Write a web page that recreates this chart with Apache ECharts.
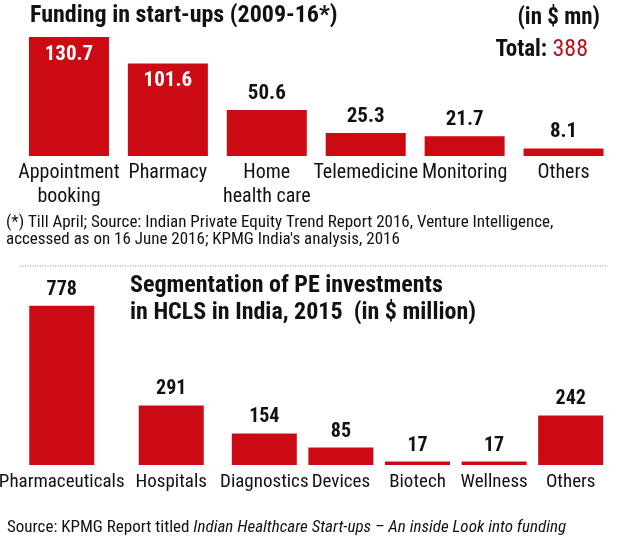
<!DOCTYPE html>
<html>
<head>
<meta charset="utf-8">
<script src="https://cdn.jsdelivr.net/npm/echarts@6/dist/echarts.min.js"></script>
<style>
  html, body { margin: 0; padding: 0; background: #fff; }
  #chart { width: 620px; height: 538px; }
</style>
</head>
<body>
<div id="chart"></div>
<script>
// ============================================
// Data
// ============================================
const startupCategories = ['Appointment\nbooking', 'Pharmacy', 'Home\nhealth care', 'Telemedicine', 'Monitoring', 'Others'];
const startupFunding = [130.7, 101.6, 50.6, 25.3, 21.7, 8.1];
const startupTotal = 388;

const peCategories = ['Pharmaceuticals', 'Hospitals', 'Diagnostics', 'Devices', 'Biotech', 'Wellness', 'Others'];
const peInvestments = [778, 291, 154, 85, 17, 17, 242];

// ============================================
// Styles
// ============================================
const RED = '#cc0a14';
const INK = '#111';
const FONT = '"Roboto Condensed", "DejaVu Sans Condensed", sans-serif';

// first two PE bars sit on a wider grid (uneven spacing in print)
const splitAt = 2;

function catAxis(gridIndex, data, fontSize) {
    return {
        type: 'category',
        gridIndex,
        data,
        axisLine: { show: false },
        axisTick: { show: false },
        axisLabel: {
            interval: 0,
            color: INK,
            fontFamily: FONT,
            fontSize,
            lineHeight: 24,
            margin: 5
        }
    };
}

function valAxis(gridIndex, max) {
    return { type: 'value', gridIndex, min: 0, max, show: false, splitLine: { show: false } };
}

function valueLabel(fontSize) {
    return {
        show: true,
        position: 'top',
        distance: 6,
        color: INK,
        fontFamily: FONT,
        fontWeight: 'bold',
        fontSize
    };
}

function heading(text, pos, fontSize, extra) {
    return Object.assign({
        text,
        padding: 0,
        textStyle: Object.assign({ fontFamily: FONT, fontWeight: 'bold', fontSize, color: INK }, extra || {})
    }, pos);
}

const chart = echarts.init(document.getElementById('chart'));

chart.setOption({
    backgroundColor: '#fff',
    animation: false,
    title: [
        heading('Funding in start-ups (2009-16*)', { left: 30, top: 4 }, 24),
        heading('(in $ mn)', { right: 20, top: 7 }, 23),
        heading('Total: {r|' + startupTotal + '}', { right: 32, top: 38 }, 23, {
            rich: { r: { fontFamily: FONT, fontWeight: 'normal', fontSize: 24, color: '#b5121b' } }
        }),
        heading("(*) Till April; Source: Indian Private Equity Trend Report 2016, Venture Intelligence,\naccessed as on 16 June 2016; KPMG India's analysis, 2016",
            { left: 6, top: 214 }, 17, { fontWeight: 'normal', lineHeight: 17 }),
        heading('Segmentation of PE investments\nin HCLS in India, 2015  (in $ million)',
            { left: 130, top: 272 }, 24, { lineHeight: 27 }),
        heading('Source: KPMG Report titled {i|Indian Healthcare Start-ups – An inside Look into funding}',
            { left: 7, top: 519 }, 17, {
                fontWeight: 'normal',
                rich: { i: { fontFamily: FONT, fontStyle: 'italic', fontSize: 17, color: INK } }
            })
    ],
    graphic: [
        {
            type: 'line',
            shape: { x1: 20, y1: 266, x2: 608, y2: 266 },
            style: { stroke: '#888', lineWidth: 1, lineDash: [1, 1.5] }
        }
    ],
    grid: [
        { left: 19.5, right: 7, top: 28.5, bottom: 382, outerBoundsMode: 'none' },
        { left: 7, right: 394, top: 301.2, bottom: 73, outerBoundsMode: 'none' },
        { left: 226, right: 11, top: 301.2, bottom: 73, outerBoundsMode: 'none' }
    ],
    xAxis: [
        catAxis(0, startupCategories, 20),
        catAxis(1, peCategories.slice(0, splitAt), 19),
        catAxis(2, peCategories.slice(splitAt), 19)
    ],
    yAxis: [valAxis(0, 140), valAxis(1, 800), valAxis(2, 800)],
    series: [
        {
            type: 'bar',
            xAxisIndex: 0, yAxisIndex: 0,
            barWidth: 80,
            itemStyle: { color: RED },
            label: valueLabel(21),
            data: startupFunding.map(v => v > 90
                ? { value: v, label: { position: 'insideTop', distance: 7, color: '#fff' } }
                : v)
        },
        {
            type: 'bar',
            xAxisIndex: 1, yAxisIndex: 1,
            barWidth: 65,
            itemStyle: { color: RED },
            label: valueLabel(20),
            data: peInvestments.slice(0, splitAt)
        },
        {
            type: 'bar',
            xAxisIndex: 2, yAxisIndex: 2,
            barWidth: 65,
            itemStyle: { color: RED },
            label: valueLabel(20),
            data: peInvestments.slice(splitAt)
        }
    ]
});
</script>
</body>
</html>
